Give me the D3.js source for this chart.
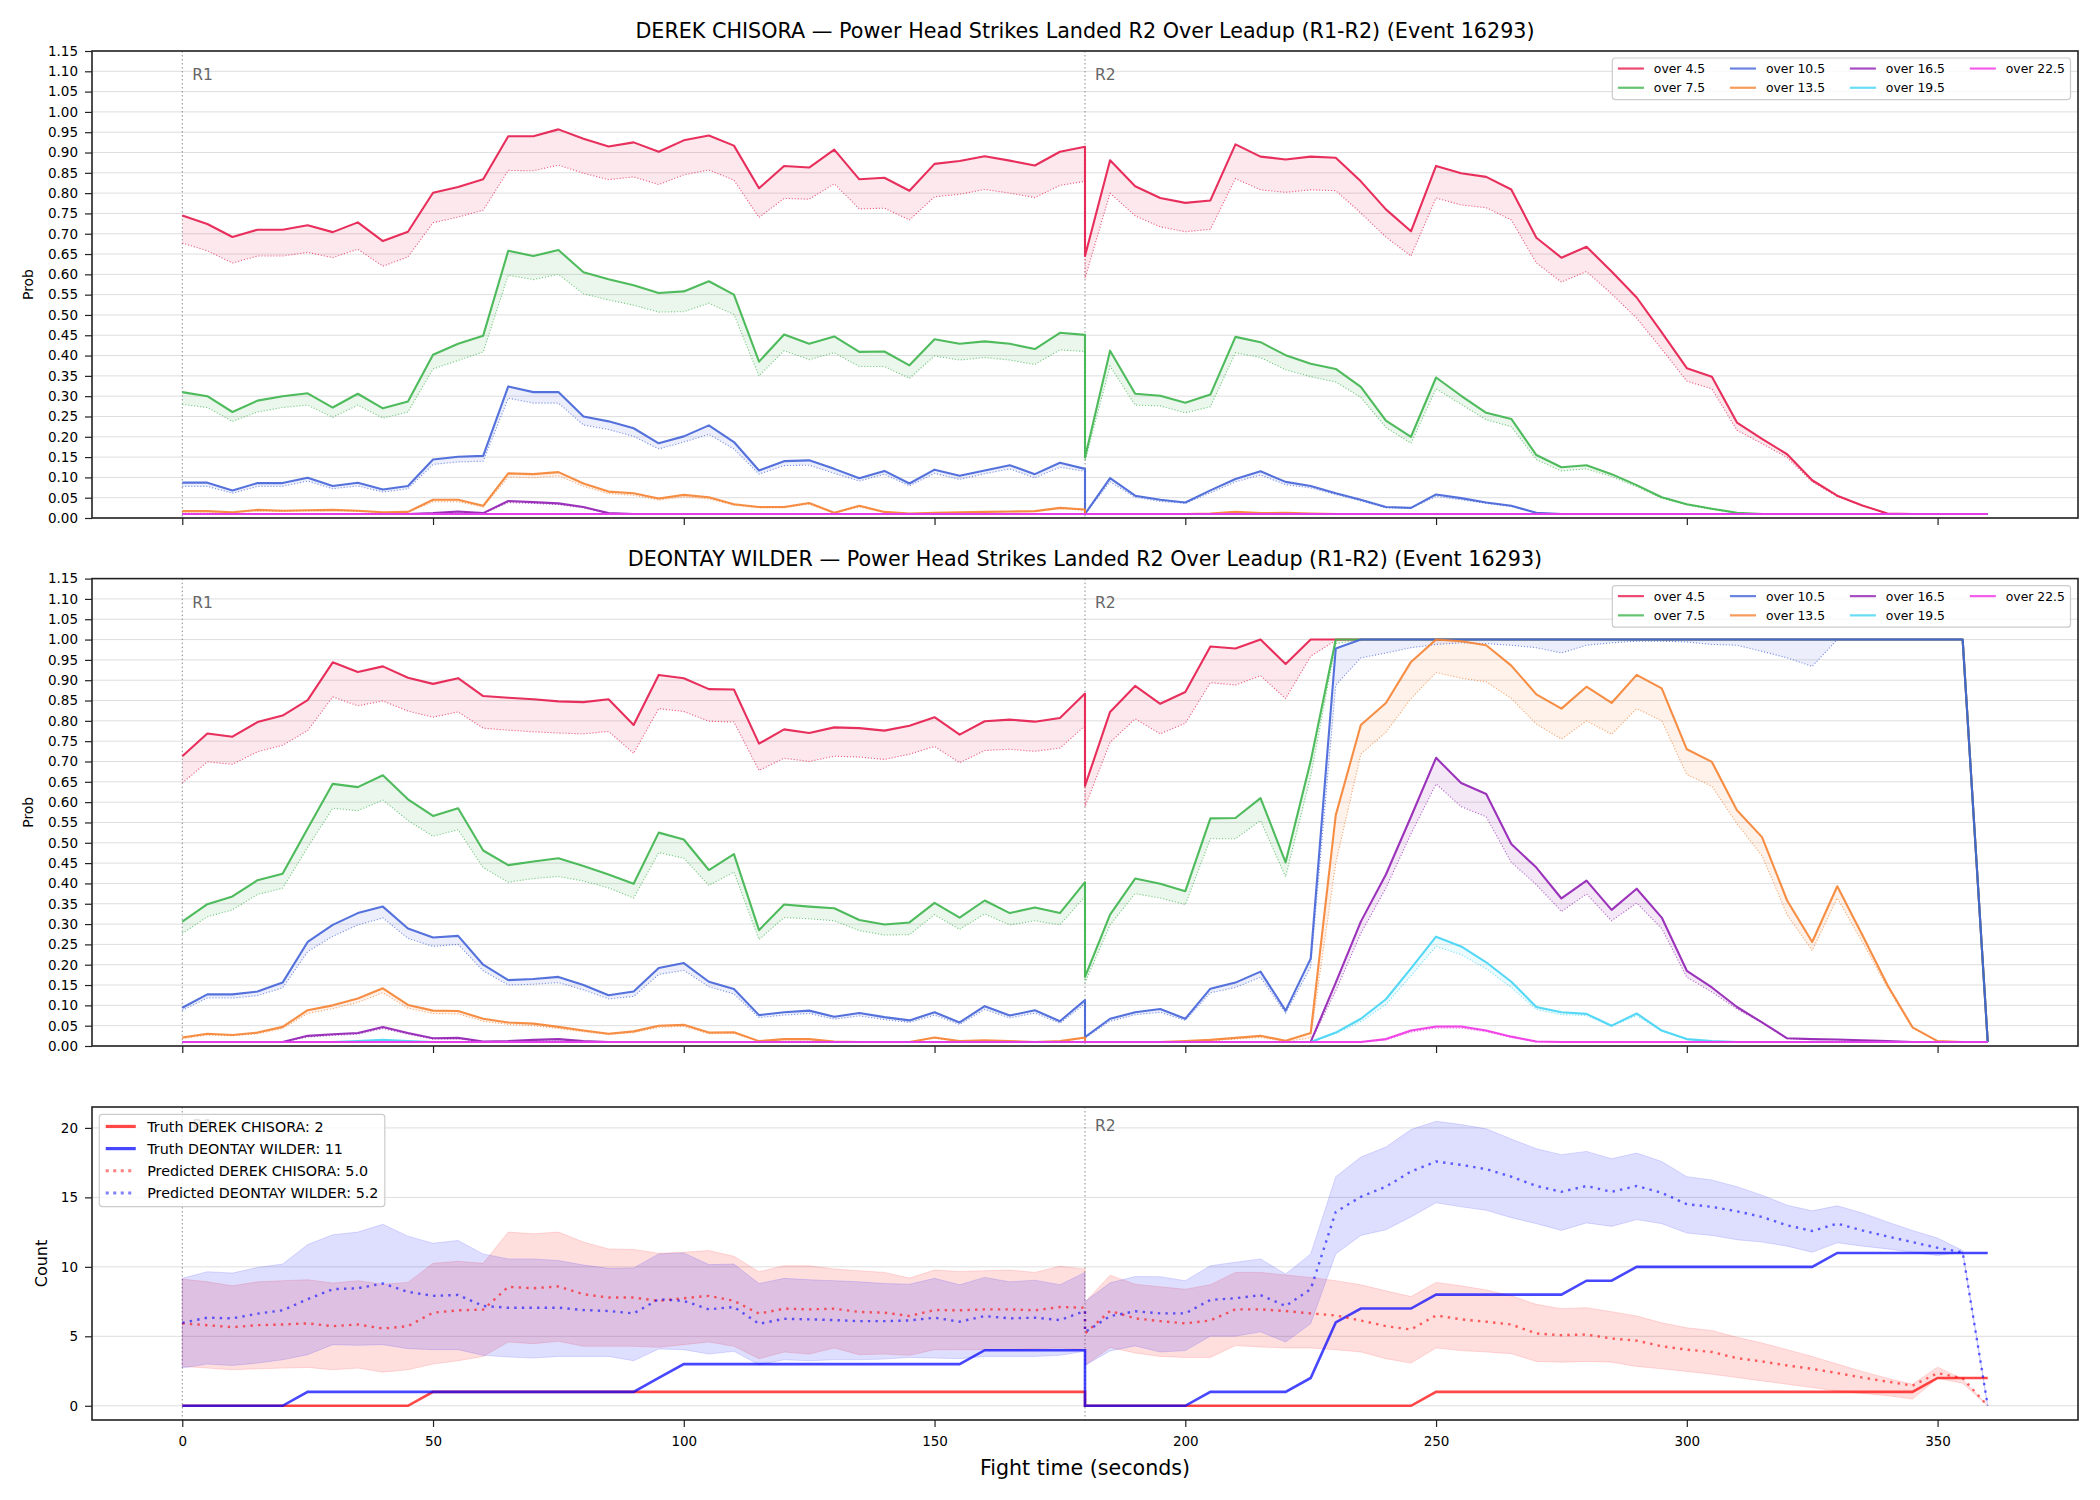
<!DOCTYPE html>
<html>
<head>
<meta charset="utf-8">
<script src="https://cdn.jsdelivr.net/npm/d3@7"></script>
<style>
    body { margin: 0; background: #fff; }
    svg { font-family: "DejaVu Sans", sans-serif; }
</style>
</head>
<body>
<svg id="chart" width="2100" height="1500"></svg>
<script>
// seconds into each round, one sample every 5 s
var roundOffsets = [0,5,10,15,20,25,30,35,40,45,50,55,60,65,70,75,80,85,90,95,100,105,110,115,120,125,130,135,140,145,150,155,160,165,170,175,180];
var roundStarts = [0, 180];
var roundNames = ["R1", "R2"];

var lineNames = ["over 4.5", "over 7.5", "over 10.5", "over 13.5", "over 16.5", "over 19.5", "over 22.5"];
var lineColors = ["#e6194b", "#3cb44b", "#4363d8", "#f58231", "#911eb4", "#42d4f4", "#f032e6"];

var probTicks = [0,0.05,0.1,0.15,0.2,0.25,0.3,0.35,0.4,0.45,0.5,0.55,0.6,0.65,0.7,0.75,0.8,0.85,0.9,0.95,1,1.05,1.1,1.15];
var countTicks = [0, 5, 10, 15, 20];
var timeTicks = [0, 50, 100, 150, 200, 250, 300, 350];

// a round where the line sits on the 0.01 floor the whole time
var floorRound = [0.01,0.01,0.01,0.01,0.01,0.01,0.01,0.01,0.01,0.01,0.01,0.01,0.01,0.01,0.01,0.01,0.01,0.01,0.01,0.01,0.01,0.01,0.01,0.01,0.01,0.01,0.01,0.01,0.01,0.01,0.01,0.01,0.01,0.01,0.01,0.01,0.01];

// ---- DEREK CHISORA (R1 values then R2 values) ----
var chisora45 = [0.745,0.724,0.692,0.710,0.710,0.721,0.704,0.728,0.682,0.705,0.801,0.815,0.834,0.940,0.940,0.957,0.934,0.915,0.925,0.902,0.930,0.942,0.917,0.812,0.867,0.863,0.907,0.834,0.838,0.806,0.872,0.879,0.891,0.880,0.868,0.902,0.914,
    0.645,0.881,0.817,0.788,0.776,0.782,0.920,0.890,0.883,0.890,0.887,0.829,0.760,0.706,0.867,0.849,0.840,0.809,0.690,0.641,0.668,0.607,0.543,0.457,0.369,0.348,0.235,0.195,0.157,0.093,0.055,0.031,0.011,0.010,0.010,0.010,0.010];
var chisora45Dot = [0.677,0.658,0.628,0.645,0.645,0.654,0.641,0.662,0.620,0.643,0.727,0.741,0.758,0.856,0.855,0.869,0.849,0.833,0.840,0.821,0.845,0.857,0.832,0.740,0.787,0.785,0.823,0.761,0.763,0.734,0.791,0.797,0.809,0.800,0.789,0.819,0.829,
    0.590,0.800,0.744,0.717,0.705,0.711,0.836,0.808,0.802,0.808,0.806,0.751,0.692,0.645,0.788,0.771,0.764,0.734,0.628,0.581,0.607,0.552,0.492,0.416,0.337,0.318,0.216,0.183,0.149,0.089,0.053,0.030,0.010,0.010,0.010,0.010,0.010];
var chisora75 = [0.310,0.300,0.261,0.289,0.300,0.307,0.272,0.306,0.270,0.287,0.402,0.429,0.449,0.658,0.645,0.660,0.605,0.588,0.573,0.554,0.558,0.583,0.550,0.385,0.452,0.429,0.447,0.409,0.410,0.376,0.440,0.429,0.435,0.429,0.416,0.456,0.451,
    0.149,0.412,0.306,0.301,0.284,0.304,0.446,0.433,0.401,0.380,0.367,0.323,0.240,0.200,0.346,0.301,0.259,0.244,0.155,0.125,0.130,0.108,0.081,0.051,0.034,0.023,0.013,0.01,0.01,0.01,0.01,0.01,0.01,0.01,0.01,0.01,0.01];
var chisora75Dot = [0.280,0.272,0.238,0.261,0.272,0.278,0.248,0.278,0.246,0.261,0.367,0.388,0.409,0.598,0.587,0.600,0.552,0.537,0.524,0.507,0.508,0.529,0.501,0.350,0.412,0.390,0.407,0.373,0.373,0.344,0.399,0.389,0.395,0.389,0.378,0.414,0.410,
    0.140,0.374,0.278,0.276,0.259,0.274,0.407,0.395,0.365,0.348,0.335,0.297,0.223,0.184,0.318,0.280,0.242,0.225,0.144,0.116,0.121,0.102,0.077,0.049,0.032,0.021,0.011,0.01,0.01,0.01,0.01,0.01,0.01,0.01,0.01,0.01,0.01];
var chisora105 = [0.087,0.087,0.068,0.086,0.086,0.099,0.079,0.087,0.070,0.079,0.144,0.151,0.153,0.324,0.310,0.310,0.250,0.238,0.221,0.184,0.201,0.228,0.187,0.117,0.140,0.142,0.121,0.098,0.116,0.085,0.119,0.104,0.117,0.130,0.108,0.136,0.121,
    0.010,0.098,0.055,0.045,0.038,0.068,0.096,0.115,0.089,0.079,0.061,0.045,0.027,0.025,0.058,0.049,0.038,0.030,0.013,0.01,0.01,0.01,0.01,0.01,0.01,0.01,0.01,0.01,0.01,0.01,0.01,0.01,0.01,0.01,0.01,0.01,0.01];
var chisora105Dot = [0.078,0.078,0.061,0.078,0.078,0.091,0.072,0.079,0.064,0.072,0.132,0.138,0.140,0.295,0.283,0.283,0.229,0.218,0.201,0.170,0.187,0.206,0.170,0.108,0.129,0.130,0.110,0.091,0.108,0.079,0.110,0.095,0.109,0.121,0.099,0.125,0.115,
    0.010,0.089,0.051,0.041,0.036,0.062,0.089,0.106,0.082,0.074,0.058,0.042,0.025,0.024,0.053,0.045,0.036,0.028,0.012,0.01,0.01,0.01,0.01,0.01,0.01,0.01,0.01,0.01,0.01,0.01,0.01,0.01,0.01,0.01,0.01,0.01,0.01];
var chisora135 = [0.017,0.017,0.014,0.020,0.018,0.019,0.020,0.018,0.014,0.015,0.045,0.045,0.030,0.110,0.108,0.113,0.085,0.065,0.061,0.048,0.057,0.051,0.034,0.027,0.027,0.037,0.013,0.030,0.015,0.011,0.013,0.014,0.015,0.016,0.017,0.025,0.021,
    0.01,0.01,0.01,0.01,0.01,0.011,0.015,0.012,0.013,0.011,0.01,0.01,0.01,0.01,0.01,0.01,0.01,0.01,0.01,0.01,0.01,0.01,0.01,0.01,0.01,0.01,0.01,0.01,0.01,0.01,0.01,0.01,0.01,0.01,0.01,0.01,0.01];
var chisora135Dot = [0.015,0.015,0.013,0.017,0.016,0.017,0.018,0.016,0.013,0.014,0.040,0.040,0.027,0.101,0.099,0.104,0.078,0.060,0.056,0.044,0.052,0.047,0.031,0.025,0.025,0.034,0.012,0.027,0.014,0.010,0.012,0.013,0.014,0.015,0.016,0.023,0.019,
    0.01,0.01,0.01,0.01,0.01,0.01,0.014,0.011,0.012,0.01,0.01,0.01,0.01,0.01,0.01,0.01,0.01,0.01,0.01,0.01,0.01,0.01,0.01,0.01,0.01,0.01,0.01,0.01,0.01,0.01,0.01,0.01,0.01,0.01,0.01,0.01,0.01];
var chisora165 = [0.01,0.01,0.01,0.01,0.01,0.01,0.01,0.01,0.01,0.01,0.012,0.016,0.012,0.042,0.039,0.036,0.027,0.012,0.01,0.01,0.01,0.01,0.01,0.01,0.01,0.01,0.01,0.01,0.01,0.01,0.01,0.01,0.01,0.01,0.01,0.01,0.01].concat(floorRound);
var chisora165Dot = [0.01,0.01,0.01,0.01,0.01,0.01,0.01,0.01,0.01,0.01,0.011,0.014,0.011,0.038,0.036,0.033,0.025,0.011,0.01,0.01,0.01,0.01,0.01,0.01,0.01,0.01,0.01,0.01,0.01,0.01,0.01,0.01,0.01,0.01,0.01,0.01,0.01].concat(floorRound);
var chisora195 = floorRound.concat(floorRound);
var chisora225 = floorRound.concat(floorRound);

// ---- DEONTAY WILDER (R1 values then R2 values) ----
var wilder45 = [0.713,0.769,0.761,0.797,0.813,0.851,0.944,0.920,0.934,0.906,0.891,0.905,0.861,0.857,0.853,0.848,0.846,0.853,0.790,0.913,0.905,0.878,0.877,0.744,0.779,0.770,0.784,0.782,0.776,0.788,0.809,0.766,0.799,0.803,0.798,0.807,0.867,
    0.640,0.822,0.886,0.842,0.871,0.983,0.978,1.000,0.940,1.000,1,1,1,1,1,1,1,1,1,1,1,1,1,1,1,1,1,1,1,1,1,1,1,1,1,1,0.01];
var wilder45Dot = [0.647,0.699,0.693,0.724,0.740,0.776,0.859,0.837,0.849,0.824,0.809,0.822,0.782,0.777,0.773,0.770,0.768,0.774,0.720,0.830,0.823,0.799,0.797,0.678,0.708,0.700,0.713,0.711,0.705,0.718,0.737,0.697,0.727,0.730,0.725,0.733,0.788,
    0.589,0.747,0.805,0.768,0.794,0.894,0.888,0.911,0.855,0.959,0.998,1,1,1,1,1,1,1,1,1,1,1,1,1,1,1,1,1,1,1,1,1,1,1,1,1,0.01];
var wilder75 = [0.306,0.349,0.368,0.408,0.424,0.535,0.645,0.637,0.666,0.607,0.566,0.585,0.481,0.445,0.454,0.462,0.443,0.422,0.399,0.525,0.508,0.433,0.472,0.285,0.348,0.343,0.339,0.310,0.299,0.304,0.352,0.316,0.358,0.327,0.341,0.327,0.403,
    0.170,0.323,0.412,0.399,0.381,0.560,0.561,0.610,0.452,0.701,1,1,1,1,1,1,1,1,1,1,1,1,1,1,1,1,1,1,1,1,1,1,1,1,1,1,0.01];
var wilder75Dot = [0.277,0.318,0.335,0.373,0.388,0.489,0.585,0.579,0.605,0.555,0.516,0.532,0.439,0.403,0.412,0.417,0.406,0.389,0.364,0.476,0.462,0.395,0.428,0.262,0.316,0.313,0.308,0.284,0.273,0.274,0.323,0.287,0.325,0.298,0.308,0.298,0.368,
    0.156,0.298,0.375,0.364,0.348,0.510,0.510,0.555,0.416,0.664,0.990,1,1,1,1,1,1,1,1,1,1,1,1,1,1,1,1,1,1,1,1,1,1,1,1,1,0.01];
var wilder105 = [0.094,0.127,0.127,0.134,0.156,0.256,0.298,0.327,0.343,0.289,0.267,0.271,0.200,0.162,0.165,0.170,0.150,0.125,0.134,0.192,0.204,0.158,0.140,0.076,0.083,0.087,0.072,0.081,0.071,0.063,0.083,0.058,0.098,0.075,0.088,0.061,0.113,
    0.022,0.067,0.083,0.091,0.067,0.141,0.156,0.183,0.087,0.215,0.978,1,1,1,1,1,1,1,1,1,1,1,1,1,1,1,1,1,1,1,1,1,1,1,1,1,0.01];
var wilder105Dot = [0.088,0.118,0.118,0.124,0.143,0.232,0.270,0.298,0.315,0.265,0.245,0.250,0.185,0.150,0.152,0.156,0.138,0.116,0.122,0.176,0.186,0.146,0.128,0.070,0.076,0.080,0.066,0.074,0.065,0.058,0.076,0.053,0.090,0.069,0.081,0.056,0.104,
    0.020,0.061,0.077,0.083,0.063,0.131,0.144,0.169,0.081,0.194,0.888,0.955,0.967,0.980,0.988,0.992,0.990,0.986,0.980,0.967,0.986,0.992,0.996,0.996,0.994,0.988,0.986,0.971,0.955,0.934,1,1,1,1,1,1,0.01];
var wilder135 = [0.021,0.030,0.027,0.033,0.047,0.088,0.100,0.117,0.142,0.101,0.087,0.086,0.067,0.058,0.055,0.047,0.038,0.030,0.036,0.050,0.052,0.033,0.034,0.012,0.017,0.017,0.011,0.010,0.010,0.010,0.021,0.012,0.014,0.012,0.010,0.012,0.021,
    0.010,0.010,0.010,0.010,0.012,0.015,0.020,0.025,0.013,0.032,0.568,0.790,0.844,0.945,1.000,0.996,0.986,0.936,0.865,0.830,0.884,0.844,0.913,0.880,0.730,0.699,0.580,0.514,0.358,0.256,0.393,0.273,0.150,0.046,0.012,0.010,0.010];
var wilder135Dot = [0.018,0.027,0.025,0.030,0.043,0.080,0.092,0.107,0.131,0.093,0.080,0.079,0.061,0.053,0.050,0.043,0.035,0.028,0.033,0.046,0.048,0.030,0.031,0.011,0.015,0.015,0.010,0.010,0.010,0.010,0.019,0.011,0.013,0.011,0.010,0.011,0.019,
    0.010,0.010,0.010,0.010,0.011,0.013,0.017,0.021,0.011,0.020,0.450,0.718,0.772,0.855,0.919,0.905,0.896,0.855,0.792,0.755,0.800,0.767,0.830,0.800,0.668,0.639,0.547,0.468,0.323,0.235,0.364,0.256,0.144,0.044,0.012,0.010,0.010];
var wilder165 = [0.01,0.01,0.01,0.01,0.01,0.025,0.029,0.032,0.047,0.032,0.019,0.020,0.011,0.012,0.015,0.017,0.012,0.01,0.01,0.01,0.01,0.01,0.01,0.01,0.01,0.01,0.01,0.01,0.01,0.01,0.01,0.01,0.01,0.01,0.01,0.01,0.01,
    0.01,0.01,0.01,0.01,0.01,0.01,0.01,0.01,0.01,0.01,0.156,0.306,0.422,0.564,0.709,0.647,0.620,0.497,0.439,0.363,0.407,0.335,0.387,0.316,0.185,0.144,0.096,0.058,0.019,0.017,0.016,0.014,0.012,0.010,0.010,0.010,0.010];
var wilder165Dot = [0.01,0.01,0.01,0.01,0.01,0.022,0.026,0.029,0.043,0.029,0.017,0.018,0.010,0.011,0.014,0.015,0.011,0.01,0.01,0.01,0.01,0.01,0.01,0.01,0.01,0.01,0.01,0.01,0.01,0.01,0.01,0.01,0.01,0.01,0.01,0.01,0.01,
    0.01,0.01,0.01,0.01,0.01,0.01,0.01,0.01,0.01,0.01,0.136,0.277,0.389,0.522,0.645,0.589,0.564,0.452,0.397,0.331,0.374,0.308,0.352,0.289,0.169,0.133,0.091,0.057,0.018,0.016,0.015,0.013,0.011,0.010,0.010,0.010,0.010];
var wilder195 = [0.01,0.01,0.01,0.01,0.01,0.01,0.01,0.012,0.015,0.012,0.01,0.01,0.01,0.01,0.01,0.01,0.01,0.01,0.01,0.01,0.01,0.01,0.01,0.01,0.01,0.01,0.01,0.01,0.01,0.01,0.01,0.01,0.01,0.01,0.01,0.01,0.01,
    0.01,0.01,0.01,0.01,0.01,0.01,0.01,0.01,0.01,0.01,0.033,0.067,0.115,0.191,0.269,0.245,0.206,0.158,0.096,0.083,0.079,0.050,0.080,0.038,0.017,0.012,0.01,0.01,0.01,0.01,0.01,0.01,0.01,0.01,0.01,0.01,0.01];
var wilder195Dot = [0.01,0.01,0.01,0.01,0.01,0.01,0.01,0.011,0.013,0.011,0.01,0.01,0.01,0.01,0.01,0.01,0.01,0.01,0.01,0.01,0.01,0.01,0.01,0.01,0.01,0.01,0.01,0.01,0.01,0.01,0.01,0.01,0.01,0.01,0.01,0.01,0.01,
    0.01,0.01,0.01,0.01,0.01,0.01,0.01,0.01,0.01,0.01,0.030,0.060,0.102,0.173,0.245,0.225,0.190,0.144,0.090,0.077,0.075,0.048,0.075,0.036,0.016,0.011,0.01,0.01,0.01,0.01,0.01,0.01,0.01,0.01,0.01,0.01,0.01];
var wilder225 = floorRound.concat([0.01,0.01,0.01,0.01,0.01,0.01,0.01,0.01,0.01,0.01,0.01,0.01,0.017,0.038,0.048,0.048,0.038,0.023,0.011,0.01,0.01,0.01,0.01,0.01,0.01,0.01,0.01,0.01,0.01,0.01,0.01,0.01,0.01,0.01,0.01,0.01,0.01]);
var wilder225Dot = floorRound.concat([0.01,0.01,0.01,0.01,0.01,0.01,0.01,0.01,0.01,0.01,0.01,0.01,0.015,0.034,0.044,0.044,0.035,0.021,0.010,0.01,0.01,0.01,0.01,0.01,0.01,0.01,0.01,0.01,0.01,0.01,0.01,0.01,0.01,0.01,0.01,0.01,0.01]);

// ---- running counts (R1 values then R2 values) ----
var truthChisora = [0,0,0,0,0,0,0,0,0,0,1,1,1,1,1,1,1,1,1,1,1,1,1,1,1,1,1,1,1,1,1,1,1,1,1,1,1,
    0,0,0,0,0,0,0,0,0,0,0,0,0,0,1,1,1,1,1,1,1,1,1,1,1,1,1,1,1,1,1,1,1,1,2,2,2];
var truthWilder = [0,0,0,0,0,1,1,1,1,1,1,1,1,1,1,1,1,1,1,2,3,3,3,3,3,3,3,3,3,3,3,3,4,4,4,4,4,
    0,0,0,0,0,1,1,1,1,2,6,7,7,7,8,8,8,8,8,8,9,9,10,10,10,10,10,10,10,10,11,11,11,11,11,11,11];
var predChisora = [5.93,5.80,5.66,5.80,5.85,5.93,5.73,5.85,5.56,5.73,6.70,6.87,6.92,8.56,8.46,8.59,8.03,7.79,7.79,7.55,7.74,7.91,7.55,6.63,6.99,6.94,6.99,6.75,6.70,6.46,6.89,6.87,6.94,6.94,6.87,7.11,7.06,
    5.20,6.83,6.29,6.09,5.93,6.14,6.94,6.94,6.82,6.65,6.50,6.14,5.73,5.49,6.50,6.22,6.05,5.85,5.20,5.08,5.13,4.84,4.69,4.28,4.04,3.87,3.43,3.19,2.90,2.66,2.35,2.03,1.74,1.45,2.35,1.98,0.00];
var predWilder = [5.97,6.34,6.29,6.63,6.87,7.67,8.39,8.46,8.80,8.20,7.91,7.98,7.18,7.06,7.06,7.06,6.89,6.82,6.65,7.67,7.55,6.94,7.11,5.90,6.26,6.22,6.17,6.09,6.09,6.14,6.34,6.05,6.46,6.29,6.34,6.17,6.82,
    5.30,6.45,6.80,6.65,6.65,7.62,7.74,7.96,7.18,8.39,13.95,15.04,15.77,16.86,17.58,17.34,17.03,16.49,15.82,15.40,15.82,15.40,15.82,15.33,14.51,14.32,14.00,13.59,12.99,12.58,13.11,12.62,12.19,11.78,11.37,11.05,0.00];
var chisoraHigh = [9.12,8.92,8.63,8.92,9.00,9.07,8.83,9.00,8.75,8.88,10.25,10.40,10.25,12.50,12.38,12.50,11.78,11.29,11.25,10.98,11.05,11.17,10.76,9.65,10.08,10.08,9.84,9.72,9.60,9.19,9.77,9.67,9.72,9.77,9.60,10.04,9.85,
    7.45,9.40,8.75,8.56,8.39,8.71,9.60,9.60,9.41,9.24,9.00,8.71,8.27,7.86,8.88,8.63,8.34,7.91,7.30,6.99,7.06,6.77,6.46,5.97,5.61,5.42,4.93,4.52,4.04,3.55,3.00,2.47,1.98,1.55,2.78,1.93,0.00];
var chisoraLow = [2.83,2.71,2.59,2.66,2.71,2.76,2.59,2.71,2.42,2.59,3.00,3.24,3.55,4.59,4.47,4.64,4.28,4.28,4.28,4.21,4.40,4.59,4.28,3.39,3.87,3.72,4.16,3.68,3.72,3.63,4.04,4.04,4.04,4.04,4.11,4.16,4.04,
    2.90,4.20,3.80,3.55,3.48,3.48,4.33,4.23,4.16,4.16,4.04,3.87,3.39,3.07,4.16,3.97,3.87,3.75,3.19,3.14,3.19,3.14,2.83,2.66,2.47,2.27,2.03,1.79,1.55,1.31,1.06,0.89,0.73,0.48,1.98,1.62,0.00];
var wilderHigh = [9.17,9.65,9.55,9.96,10.20,11.60,12.31,12.50,13.06,12.21,11.70,11.90,10.93,10.57,10.57,10.45,10.13,9.89,9.92,10.93,11.00,10.16,10.20,8.80,9.17,9.07,9.00,8.92,8.80,8.75,9.17,8.71,9.24,8.92,9.04,8.71,9.60,
    7.50,8.85,9.30,9.29,9.00,10.08,10.33,10.57,9.48,10.93,16.49,17.90,18.62,19.88,20.48,20.24,19.93,19.20,18.50,18.07,18.31,17.78,18.19,17.58,16.49,16.25,15.77,15.16,14.44,14.03,14.39,13.88,13.23,12.62,12.07,11.17,0.00];
var wilderLow = [2.71,3.00,2.90,3.07,3.31,3.68,4.40,4.35,4.40,4.11,4.04,4.04,3.63,3.51,3.43,3.55,3.55,3.55,3.24,4.09,4.04,3.72,3.92,2.95,3.31,3.24,3.31,3.31,3.36,3.48,3.43,3.39,3.55,3.55,3.55,3.63,3.92,
    2.90,3.95,4.31,3.87,3.97,5.01,5.01,5.32,4.59,5.90,10.93,12.26,12.67,13.59,14.61,14.32,14.07,13.54,13.11,12.62,13.16,12.91,13.40,13.11,12.43,12.26,11.95,11.78,11.49,11.05,11.73,11.49,11.29,11.05,10.81,11.05,0.00];

var countLabels = ["Truth DEREK CHISORA: 2", "Truth DEONTAY WILDER: 11", "Predicted DEREK CHISORA: 5.0", "Predicted DEONTAY WILDER: 5.2"];

// sample times for both rounds laid end to end
var fightTime = [];
roundStarts.forEach(function (s) {
    roundOffsets.forEach(function (o) {
        fightTime.push(s + o);
    });
});

var chisoraSolid = [chisora45, chisora75, chisora105, chisora135, chisora165, chisora195, chisora225];
var chisoraDotted = [chisora45Dot, chisora75Dot, chisora105Dot, chisora135Dot, chisora165Dot, chisora195, chisora225];
var wilderSolid = [wilder45, wilder75, wilder105, wilder135, wilder165, wilder195, wilder225];
var wilderDotted = [wilder45Dot, wilder75Dot, wilder105Dot, wilder135Dot, wilder165Dot, wilder195Dot, wilder225Dot];

[].concat(chisoraSolid, chisoraDotted, wilderSolid, wilderDotted,
        [truthChisora, truthWilder, predChisora, predWilder, chisoraHigh, chisoraLow, wilderHigh, wilderLow])
        .forEach(function (arr, i) {
            if (arr.length !== fightTime.length) {
                throw new Error("series " + i + " has " + arr.length + " points");
            }
        });

var svg = d3.select("#chart");
var plotLeft = 92, plotRight = 2078;
var x = d3.scaleLinear().domain([-18, 378]).range([plotLeft, plotRight]);
var tickFont = 13.5;

function drawFrame(top, bottom, y, yTicks) {
    var g = svg.append("g");
    g.append("g").selectAll("line").data(yTicks).enter().append("line")
            .attr("x1", plotLeft).attr("x2", plotRight)
            .attr("y1", function (d) { return y(d); })
            .attr("y2", function (d) { return y(d); })
            .attr("stroke", "#dedede").attr("stroke-width", 1);
    // round markers
    roundStarts.forEach(function (s) {
        g.append("line")
                .attr("x1", x(s)).attr("x2", x(s))
                .attr("y1", top).attr("y2", bottom)
                .attr("stroke", "#808080").attr("stroke-width", 1)
                .attr("stroke-dasharray", "1.5,2.5").attr("stroke-opacity", 0.9);
    });
    return g;
}

function drawAxes(g, top, bottom, y, yTicks, yFormat, showTimeLabels) {
    var yAxis = d3.axisLeft(y).tickValues(yTicks).tickFormat(yFormat).tickSize(7).tickPadding(7);
    var ya = g.append("g").attr("transform", "translate(" + plotLeft + ",0)").call(yAxis);
    var xAxis = d3.axisBottom(x).tickValues(timeTicks).tickSize(7).tickPadding(9)
            .tickFormat(showTimeLabels ? d3.format("d") : function () { return ""; });
    var xa = g.append("g").attr("transform", "translate(0," + bottom + ")").call(xAxis);
    [ya, xa].forEach(function (a) {
        a.select(".domain").remove();
        a.attr("font-size", tickFont).attr("font-family", "DejaVu Sans");
        a.selectAll("text").attr("fill", "#000");
        a.selectAll("line").attr("stroke", "#222").attr("stroke-width", 1.2);
    });
    g.append("rect")
            .attr("x", plotLeft).attr("y", top)
            .attr("width", plotRight - plotLeft).attr("height", bottom - top)
            .attr("fill", "none").attr("stroke", "#222").attr("stroke-width", 1.6);
    roundStarts.forEach(function (s, i) {
        g.append("text")
                .attr("x", x(s) + 10).attr("y", top + 0.03 * (bottom - top) + 15)
                .attr("font-size", 15.5).attr("fill", "#666")
                .text(roundNames[i]);
    });
}

function drawLegend(items, ncol, fs, boxX, boxY, alignRight) {
    var g = svg.append("g").attr("font-size", fs);
    var nrow = Math.ceil(items.length / ncol);
    var handle = 2.1 * fs, pad = 0.8 * fs, colGap = 2 * fs, rowH = 1.55 * fs, border = 0.45 * fs;
    var probe = g.append("text");
    var widths = items.map(function (it) {
        probe.text(it.label);
        return probe.node().getComputedTextLength();
    });
    probe.remove();
    var colW = [];
    var c, r, k;
    for (c = 0; c < ncol; c++) {
        var m = 0;
        for (r = 0; r < nrow; r++) {
            k = c * nrow + r;
            if (k < items.length) m = Math.max(m, widths[k]);
        }
        colW.push(handle + pad + m);
    }
    var boxW = 2 * border + d3.sum(colW) + colGap * (ncol - 1);
    var boxH = 0.85 * fs + (nrow - 1) * rowH + 0.95 * fs;
    var left = alignRight ? boxX - boxW : boxX;
    g.append("rect")
            .attr("x", left).attr("y", boxY).attr("width", boxW).attr("height", boxH)
            .attr("rx", 3).attr("ry", 3)
            .attr("fill", "#fff").attr("fill-opacity", 0.8)
            .attr("stroke", "#cccccc").attr("stroke-width", 1.2);
    var cx = left + border;
    for (c = 0; c < ncol; c++) {
        for (r = 0; r < nrow; r++) {
            k = c * nrow + r;
            if (k >= items.length) continue;
            var it = items[k];
            var cy = boxY + 0.85 * fs + r * rowH;
            g.append("line")
                    .attr("x1", cx).attr("x2", cx + handle)
                    .attr("y1", cy).attr("y2", cy)
                    .attr("stroke", it.color).attr("stroke-width", it.width)
                    .attr("stroke-opacity", it.opacity)
                    .attr("stroke-dasharray", it.dash || null);
            g.append("text")
                    .attr("x", cx + handle + pad).attr("y", cy + 0.36 * fs)
                    .attr("fill", "#000")
                    .text(it.label);
        }
        cx += colW[c] + colGap;
    }
}

function probPanel(top, bottom, title, solids, dotteds) {
    var y = d3.scaleLinear().domain([0, 1.15]).range([bottom, top]);
    var g = drawFrame(top, bottom, y, probTicks);
    var line = d3.line()
            .x(function (d, i) { return x(fightTime[i]); })
            .y(function (d) { return y(d); });
    solids.forEach(function (solid, k) {
        var dotted = dotteds[k];
        var band = d3.area()
                .x(function (d, i) { return x(fightTime[i]); })
                .y0(function (d, i) { return y(dotted[i]); })
                .y1(function (d) { return y(d); });
        g.append("path").attr("d", band(solid))
                .attr("fill", lineColors[k]).attr("fill-opacity", 0.1);
    });
    solids.forEach(function (solid, k) {
        g.append("path").attr("d", line(solid))
                .attr("fill", "none").attr("stroke", lineColors[k])
                .attr("stroke-width", 2.1).attr("stroke-opacity", 0.9)
                .attr("stroke-linejoin", "round");
        g.append("path").attr("d", line(dotteds[k]))
                .attr("fill", "none").attr("stroke", lineColors[k])
                .attr("stroke-width", 1.1).attr("stroke-opacity", 0.7)
                .attr("stroke-dasharray", "1.1,1.9");
    });
    drawAxes(g, top, bottom, y, probTicks, d3.format(".2f"), false);
    svg.append("text")
            .attr("x", (plotLeft + plotRight) / 2).attr("y", top - 13)
            .attr("text-anchor", "middle").attr("font-size", 20.7)
            .text(title);
    svg.append("text")
            .attr("transform", "translate(33," + ((top + bottom) / 2) + ") rotate(-90)")
            .attr("text-anchor", "middle").attr("font-size", 13.9)
            .text("Prob");
    drawLegend(lineNames.map(function (n, k) {
        return {label: n, color: lineColors[k], width: 2.2, opacity: 0.8};
    }), 4, 12.4, plotRight - 7.5, top + 7, true);
}

probPanel(51, 518, "DEREK CHISORA \u2014 Power Head Strikes Landed R2 Over Leadup (R1-R2) (Event 16293)",
        chisoraSolid, chisoraDotted);
probPanel(578.6, 1046, "DEONTAY WILDER \u2014 Power Head Strikes Landed R2 Over Leadup (R1-R2) (Event 16293)",
        wilderSolid, wilderDotted);

// ---- count panel ----
(function () {
    var top = 1107, bottom = 1420;
    var hi = d3.max([].concat(chisoraHigh, wilderHigh, truthWilder, predWilder));
    var pad = 0.05 * hi;
    var y = d3.scaleLinear().domain([-pad, hi + pad]).range([bottom, top]);
    var g = drawFrame(top, bottom, y, countTicks);
    var xt = function (d, i) { return x(fightTime[i]); };
    [[chisoraHigh, chisoraLow, "#ff0000"], [wilderHigh, wilderLow, "#0000ff"]].forEach(function (b) {
        var low = b[1];
        var band = d3.area().x(xt)
                .y0(function (d, i) { return y(low[i]); })
                .y1(function (d) { return y(d); });
        g.append("path").attr("d", band(b[0]))
                .attr("fill", b[2]).attr("fill-opacity", 0.13)
                .attr("stroke", b[2]).attr("stroke-opacity", 0.13).attr("stroke-width", 1);
    });
    var line = d3.line().x(xt).y(function (d) { return y(d); });
    g.append("path").attr("d", line(truthChisora)).attr("fill", "none")
            .attr("stroke", "#ff0000").attr("stroke-opacity", 0.72).attr("stroke-width", 2.6);
    g.append("path").attr("d", line(truthWilder)).attr("fill", "none")
            .attr("stroke", "#0000ff").attr("stroke-opacity", 0.72).attr("stroke-width", 2.6);
    g.append("path").attr("d", line(predChisora)).attr("fill", "none")
            .attr("stroke", "#ff0000").attr("stroke-opacity", 0.6).attr("stroke-width", 2.4)
            .attr("stroke-dasharray", "2.4,5.2");
    g.append("path").attr("d", line(predWilder)).attr("fill", "none")
            .attr("stroke", "#0000ff").attr("stroke-opacity", 0.6).attr("stroke-width", 2.4)
            .attr("stroke-dasharray", "2.4,5.2");
    drawAxes(g, top, bottom, y, countTicks, d3.format("d"), true);
    svg.append("text")
            .attr("transform", "translate(46.5," + ((top + bottom) / 2) + ") rotate(-90)")
            .attr("text-anchor", "middle").attr("font-size", 16)
            .text("Count");
    svg.append("text")
            .attr("x", (plotLeft + plotRight) / 2).attr("y", 1475)
            .attr("text-anchor", "middle").attr("font-size", 20.6)
            .text("Fight time (seconds)");
    drawLegend([
        {label: countLabels[0], color: "#ff0000", width: 3.2, opacity: 0.72},
        {label: countLabels[1], color: "#0000ff", width: 3.2, opacity: 0.72},
        {label: countLabels[2], color: "#ff0000", width: 3, opacity: 0.5, dash: "3,4.5"},
        {label: countLabels[3], color: "#0000ff", width: 3, opacity: 0.5, dash: "3,4.5"}
    ], 1, 14.3, plotLeft + 7.3, top + 7.3, false);
})();
</script>
</body>
</html>
